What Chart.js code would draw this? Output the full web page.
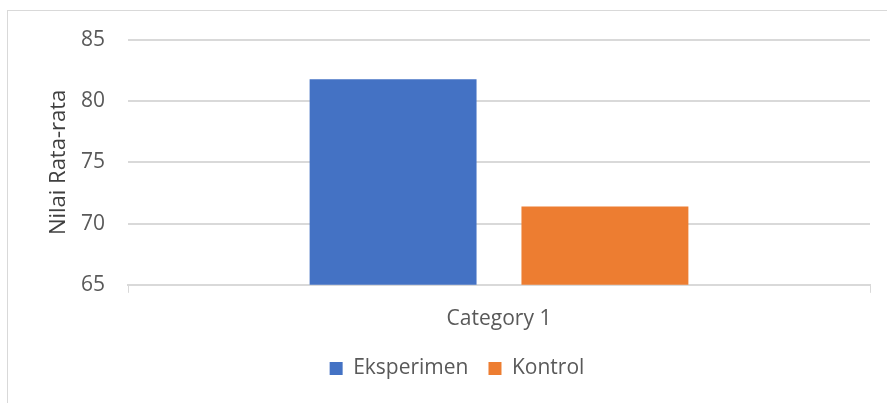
<!DOCTYPE html>
<html>
<head>
<meta charset="utf-8">
<script src="https://cdn.jsdelivr.net/npm/chart.js@4"></script>
<style>
    html, body { margin: 0; padding: 0; overflow: hidden; background: #fff; }
    #frame { position: absolute; left: 7px; top: 10px; width: 1000px; height: 1000px; border: 1px solid #d9d9d9; }
    #wrap { position: absolute; left: 0; top: 0; width: 887px; height: 403px; }
</style>
</head>
<body>
<div id="frame"></div>
<div id="wrap"><canvas id="barChart" width="887" height="403"></canvas></div>
<script>
// data
const categories = ['Category 1'];
const seriesNames = ['Eksperimen', 'Kontrol'];
const eksperimenValues = [81.8];
const kontrolValues = [71.4];
const yTicks = [65, 70, 75, 80, 85];

const fontFamily = '"Open Sans", sans-serif';
const gridColor = '#d9d9d9';

// legenda sedikit ke kanan, seperti di gambar asli
const shiftLegend = {
    id: 'shiftLegend',
    afterLayout: function(chart) {
        chart.legend.left += 22;
        chart.legend.right += 22;
    }
};

document.addEventListener('DOMContentLoaded', function() {
    const ctx = document.getElementById('barChart').getContext('2d');

    const barData = {
        labels: categories,
        datasets: [{
            label: seriesNames[0],
            data: eksperimenValues,
            backgroundColor: '#4472c4'
        }, {
            label: seriesNames[1],
            data: kontrolValues,
            backgroundColor: '#ed7d31'
        }]
    };

    new Chart(ctx, {
        type: 'bar',
        data: barData,
        plugins: [shiftLegend],
        options: {
            responsive: false,
            animation: false,
            categoryPercentage: 0.571,
            barPercentage: 0.788,
            layout: {
                padding: { left: 0, right: 17, top: 40, bottom: 14 }
            },
            scales: {
                x: {
                    afterFit: function(scale) {
                        scale.height -= 8;
                    },
                    grid: {
                        drawOnChartArea: false,
                        drawTicks: true,
                        tickLength: 8,
                        color: gridColor
                    },
                    border: { color: gridColor, width: 2 },
                    ticks: {
                        color: '#595959',
                        font: { family: fontFamily, size: 21 },
                        padding: 14
                    }
                },
                y: {
                    min: yTicks[0],
                    max: yTicks[yTicks.length - 1],
                    afterBuildTicks: function(scale) {
                        scale.ticks = yTicks.map(v => ({ value: v }));
                    },
                    afterFit: function(scale) {
                        scale.width = 128;
                    },
                    grid: {
                        color: gridColor,
                        lineWidth: 2,
                        drawTicks: false
                    },
                    border: { display: false },
                    ticks: {
                        color: '#595959',
                        font: { family: fontFamily, size: 21 },
                        padding: 23
                    },
                    title: {
                        display: true,
                        text: 'Nilai Rata-rata',
                        color: '#404040',
                        font: { family: fontFamily, size: 22 },
                        padding: { top: 46, bottom: 0 }
                    }
                }
            },
            plugins: {
                legend: {
                    position: 'bottom',
                    labels: {
                        boxWidth: 13,
                        boxHeight: 13,
                        padding: 20,
                        color: '#595959',
                        font: { family: fontFamily, size: 21 }
                    }
                },
                tooltip: { enabled: false }
            }
        }
    });
});
</script>
</body>
</html>
